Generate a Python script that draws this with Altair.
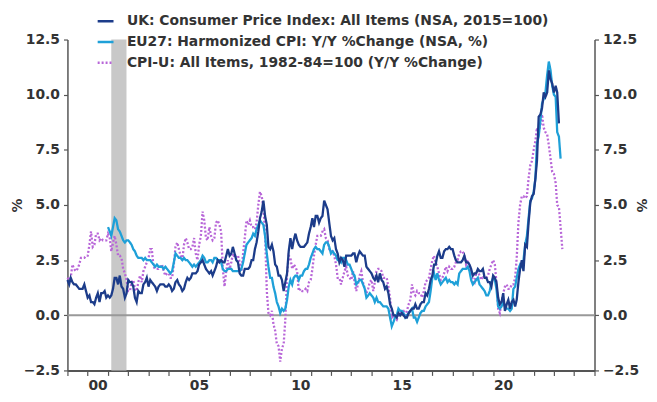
import altair as alt
import pandas as pd

# ---------------- data ----------------
series_names = [
    "UK: Consumer Price Index: All Items (NSA, 2015=100)",
    "EU27: Harmonized CPI: Y/Y %Change (NSA, %)",
    "CPI-U: All Items, 1982-84=100 (Y/Y %Change)",
]
series_colors = ["#1c3c8a", "#1ea0d8", "#b866d8"]
series_dash = [[1, 0], [1, 0], [2, 2]]
series_starts = ["1999-01-01", "2001-01-01", "1999-01-01"]

uk_cpi = [
    1.6, 1.4, 1.7, 1.5, 1.4, 1.4, 1.3, 1.2, 1.2, 1.2, 1.4, 1.1,
    0.8, 0.9, 0.6, 0.6, 0.5, 0.8, 1.0, 0.6, 1.0, 1.0, 1.1, 0.8,
    0.9, 0.8, 0.9, 1.2, 1.7, 1.7, 1.4, 1.8, 1.3, 1.2, 0.8, 1.0,
    1.6, 1.5, 1.5, 1.3, 0.8, 0.6, 1.1, 1.0, 1.0, 1.4, 1.5, 1.7,
    1.3, 1.6, 1.5, 1.4, 1.3, 1.1, 1.3, 1.4, 1.4, 1.4, 1.3, 1.3,
    1.4, 1.3, 1.1, 1.2, 1.5, 1.6, 1.4, 1.3, 1.1, 1.2, 1.5, 1.7,
    1.6, 1.7, 1.9, 1.9, 1.9, 2.0, 2.3, 2.4, 2.5, 2.3, 2.1, 2.0,
    1.9, 2.0, 1.8, 2.0, 2.2, 2.5, 2.4, 2.5, 2.4, 2.4, 2.7, 3.0,
    2.7, 2.8, 3.1, 2.8, 2.5, 2.4, 1.9, 1.8, 1.8, 2.1, 2.1, 2.1,
    2.2, 2.5, 2.5, 3.0, 3.3, 3.8, 4.4, 4.7, 5.2, 4.5, 4.1, 3.1,
    3.0, 3.2, 2.9, 2.3, 2.2, 1.8, 1.8, 1.6, 1.1, 1.5, 1.9, 2.9,
    3.5, 3.0, 3.4, 3.7, 3.4, 3.2, 3.1, 3.1, 3.1, 3.2, 3.3, 3.7,
    4.0, 4.4, 4.0, 4.5, 4.5, 4.2, 4.4, 4.5, 5.2, 5.0, 4.8, 4.2,
    3.6, 3.4, 3.5, 3.0, 2.8, 2.4, 2.6, 2.5, 2.2, 2.7, 2.7, 2.7,
    2.7, 2.8, 2.8, 2.4, 2.7, 2.9, 2.8, 2.7, 2.7, 2.2, 2.1, 2.0,
    1.9, 1.7, 1.6, 1.8, 1.5, 1.9, 1.6, 1.5, 1.2, 1.3, 1.0, 0.5,
    0.3, 0.0, 0.0, -0.1, 0.1, 0.0, 0.1, 0.0, -0.1, -0.1, 0.1, 0.2,
    0.3, 0.3, 0.5, 0.3, 0.3, 0.5, 0.6, 0.6, 1.0, 0.9, 1.2, 1.6,
    1.8, 2.3, 2.3, 2.7, 2.9, 2.6, 2.6, 2.9, 3.0, 3.0, 3.1, 3.0,
    3.0, 2.7, 2.5, 2.4, 2.4, 2.4, 2.5, 2.7, 2.4, 2.4, 2.3, 2.1,
    1.8, 1.9, 1.9, 2.1, 2.0, 2.0, 2.1, 1.7, 1.7, 1.5, 1.5, 1.3,
    1.8, 1.7, 1.5, 0.8, 0.5, 0.6, 1.0, 0.2, 0.5, 0.7, 0.3, 0.6,
    0.7, 0.4, 0.7, 1.5, 2.1, 2.5, 2.0, 3.2, 3.1, 4.2, 5.1, 5.4,
    5.5, 6.2, 7.0, 9.0, 9.1, 9.4, 10.1, 9.9, 10.1, 11.1, 10.7, 10.5,
    10.1, 10.4, 10.1, 8.7,
]

eu27_hicp = [
    4.0, 3.8, 3.6, 4.0, 4.4, 4.3, 3.9, 3.8, 3.6, 3.4, 3.3, 3.4,
    3.4, 3.3, 3.2, 3.0, 2.9, 2.7, 2.6, 2.6, 2.6, 2.5, 2.6, 2.5,
    2.5, 2.5, 2.4, 2.3, 2.2, 2.3, 2.2, 2.2, 2.2, 2.1, 2.2, 2.1,
    2.0, 1.9, 2.0, 2.4, 2.8, 2.7, 2.6, 2.6, 2.5, 2.6, 2.5, 2.5,
    2.4, 2.3, 2.2, 2.3, 2.2, 2.3, 2.4, 2.5, 2.7, 2.6, 2.4, 2.4,
    2.5, 2.5, 2.4, 2.6, 2.6, 2.5, 2.5, 2.4, 2.1, 2.0, 2.0, 2.1,
    2.1, 2.1, 2.0, 2.0, 2.0, 2.0, 2.0, 2.1, 2.4, 2.8, 3.2, 3.3,
    3.4, 3.5, 3.7, 3.6, 3.9, 4.1, 4.3, 4.2, 4.1, 3.6, 2.8, 2.2,
    1.7, 1.7, 1.3, 1.0, 0.6, 0.4, 0.1, 0.3, 0.2, 0.3, 0.7, 1.3,
    1.6, 1.4, 1.7, 1.8, 1.8, 1.6, 1.8, 1.8, 2.0, 2.1, 2.1, 2.3,
    2.6, 2.8, 3.0, 3.1, 3.0, 3.0, 2.9, 2.8, 3.2, 3.3, 3.3, 3.1,
    2.8, 2.9, 2.8, 2.7, 2.5, 2.5, 2.4, 2.6, 2.6, 2.5, 2.3, 2.3,
    2.1, 1.9, 1.8, 1.4, 1.5, 1.6, 1.6, 1.4, 1.2, 0.8, 0.9, 1.0,
    0.9, 0.8, 0.6, 0.8, 0.6, 0.6, 0.5, 0.4, 0.4, 0.4, 0.3, -0.1,
    -0.5, -0.3, -0.1, 0.0, 0.3, 0.2, 0.2, 0.1, -0.1, 0.0, 0.1, 0.2,
    0.3, -0.1, -0.1, -0.3, -0.1, 0.1, 0.2, 0.2, 0.4, 0.5, 0.6, 1.1,
    1.7, 1.9, 1.6, 1.9, 1.6, 1.4, 1.5, 1.6, 1.7, 1.5, 1.6, 1.5,
    1.5, 1.4, 1.5, 1.4, 1.9, 2.0, 2.1, 2.1, 2.1, 2.2, 2.0, 1.6,
    1.4, 1.5, 1.6, 1.7, 1.4, 1.3, 1.2, 1.1, 0.9, 0.9, 1.1, 1.5,
    1.7, 1.6, 1.2, 0.4, 0.3, 0.4, 0.6, 0.4, 0.3, 0.3, 0.2, 0.3,
    1.2, 1.3, 1.7, 2.1, 2.3, 2.2, 2.5, 3.2, 3.6, 4.4, 5.2, 5.3,
    5.6, 6.2, 7.8, 8.1, 8.8, 9.6, 9.8, 10.1, 10.9, 11.5, 11.1, 10.4,
    10.0, 9.9, 8.3, 8.1, 7.1,
]

us_cpi_u = [
    1.7, 1.6, 1.7, 2.3, 2.1, 2.0, 2.1, 2.3, 2.6, 2.6, 2.6, 2.7,
    2.7, 3.2, 3.8, 3.1, 3.2, 3.7, 3.7, 3.4, 3.5, 3.4, 3.4, 3.4,
    3.7, 3.5, 2.9, 3.3, 3.6, 3.2, 2.7, 2.7, 2.6, 2.1, 1.9, 1.6,
    1.1, 1.1, 1.5, 1.6, 1.2, 1.1, 1.5, 1.8, 1.5, 2.0, 2.2, 2.4,
    2.6, 3.0, 3.0, 2.2, 2.1, 2.1, 2.1, 2.2, 2.3, 2.0, 1.8, 1.9,
    1.9, 1.7, 1.7, 2.3, 3.1, 3.3, 3.0, 2.7, 2.5, 3.2, 3.5, 3.3,
    3.0, 3.0, 3.1, 3.5, 2.8, 2.5, 3.2, 3.6, 4.7, 4.3, 3.5, 3.4,
    4.0, 3.6, 3.4, 3.5, 4.2, 4.3, 4.1, 3.8, 2.1, 1.3, 2.0, 2.5,
    2.1, 2.4, 2.8, 2.6, 2.7, 2.7, 2.4, 2.0, 2.8, 3.5, 4.3, 4.1,
    4.3, 4.0, 4.0, 3.9, 4.2, 5.0, 5.6, 5.4, 4.9, 3.7, 1.1, 0.1,
    0.0, 0.2, -0.4, -0.7, -1.3, -1.4, -2.1, -1.5, -1.3, -0.2, 1.8, 2.7,
    2.6, 2.1, 2.3, 2.2, 2.0, 1.1, 1.2, 1.1, 1.1, 1.2, 1.1, 1.5,
    1.6, 2.1, 2.7, 3.2, 3.6, 3.6, 3.6, 3.8, 3.9, 3.5, 3.4, 3.0,
    2.9, 2.9, 2.7, 2.3, 1.7, 1.7, 1.4, 1.7, 2.0, 2.2, 1.8, 1.7,
    1.6, 2.0, 1.5, 1.1, 1.4, 1.8, 2.0, 1.5, 1.2, 1.0, 1.2, 1.5,
    1.6, 1.1, 1.5, 2.0, 2.1, 2.1, 2.0, 1.7, 1.7, 1.7, 1.3, 0.8,
    -0.1, 0.0, -0.1, -0.2, 0.0, 0.1, 0.2, 0.2, 0.0, 0.2, 0.5, 0.7,
    1.4, 1.0, 0.9, 1.1, 1.0, 1.0, 0.8, 1.1, 1.5, 1.6, 1.7, 2.1,
    2.5, 2.7, 2.4, 2.2, 1.9, 1.6, 1.7, 1.9, 2.2, 2.0, 2.2, 2.1,
    2.1, 2.2, 2.4, 2.5, 2.8, 2.9, 2.9, 2.7, 2.3, 2.5, 2.2, 1.9,
    1.6, 1.5, 1.9, 2.0, 1.8, 1.6, 1.8, 1.7, 1.7, 1.8, 2.1, 2.3,
    2.5, 2.3, 1.5, 0.3, 0.1, 0.6, 1.0, 1.3, 1.4, 1.2, 1.2, 1.4,
    1.4, 1.7, 2.6, 4.2, 5.0, 5.4, 5.4, 5.3, 5.4, 6.2, 6.8, 7.0,
    7.5, 7.9, 8.5, 8.3, 8.6, 9.1, 8.5, 8.3, 8.2, 7.7, 7.1, 6.5,
    6.4, 6.0, 5.0, 4.9, 4.0, 3.0,
]

recession_start = ["2001-03-01"]
recession_end = ["2001-11-30"]
y_ticks = [-2.5, 0.0, 2.5, 5.0, 7.5, 10.0, 12.5]
x_years = list(range(1999, 2026))

# ---------------- tables ----------------
frames = []
all_vals = [uk_cpi, eu27_hicp, us_cpi_u]
for name, start, vals in reversed(list(zip(series_names, series_starts, all_vals))):
    dates = pd.date_range(start, periods=len(vals), freq="MS")
    frames.append(pd.DataFrame({"date": dates, "value": vals, "series": name}))
lines_df = pd.concat(frames, ignore_index=True)

rec_df = pd.DataFrame({"start": pd.to_datetime(recession_start),
                       "end": pd.to_datetime(recession_end)})
zero_df = pd.DataFrame({"v": [0.0]})

FONT = "DejaVu Sans"
TXT = "#333333"

xscale = alt.Scale(domain=[alt.DateTime(year=1999, month=1, date=1),
                           alt.DateTime(year=2025, month=1, date=1)])


def yscale():
    return alt.Scale(domain=[-2.5, 12.5], nice=False, zero=False)


def x_axis():
    return alt.Axis(values=[alt.DateTime(year=y, month=1, date=1) for y in x_years],
                    labelExpr="(year(datum.value) % 5 == 0 && year(datum.value) < 2025) ? timeFormat(datum.value, '%y') : ''",
                    labelOffset=10, tickSize=5, labelPadding=3,
                    domainWidth=2, labelFlush=False, labelOverlap=False)


legend = alt.Legend(
    title=None, orient="none", legendX=29, legendY=-28,
    symbolType="stroke", symbolSize=256, symbolStrokeWidth=2.5,
    labelFont=FONT, labelFontSize=14, labelFontWeight="bold", labelColor=TXT,
    labelOffset=12, rowPadding=4, labelLimit=700, padding=0,
)

rect = alt.Chart(rec_df).mark_rect(color="#c8c8c8").encode(
    x=alt.X("start:T", scale=xscale, title=None, axis=x_axis()),
    x2="end:T",
    y=alt.YDatum(12.5, scale=yscale(), axis=None),
    y2=alt.datum(-2.5),
)

zero_rule = alt.Chart(zero_df).mark_rule(color="#999999", strokeWidth=2).encode(
    y=alt.Y("v:Q", scale=yscale(), title="%",
            axis=alt.Axis(orient="right", values=y_ticks, format=".1f",
                          tickSize=4, labelPadding=4,
                          titleX=46, titleY=167, titleAngle=90,
                          titleAlign="center", titleBaseline="middle")),
)

lines = alt.Chart(lines_df).mark_line(strokeWidth=2.3).encode(
    x=alt.X("date:T", scale=xscale, title=None, axis=x_axis()),
    y=alt.Y("value:Q", scale=yscale(), title="%",
            axis=alt.Axis(orient="left", values=y_ticks, format=".1f",
                          tickSize=4, labelPadding=4,
                          titleX=-50, titleY=167, titleAngle=270,
                          titleAlign="center", titleBaseline="middle")),
    color=alt.Color("series:N", scale=alt.Scale(domain=series_names, range=series_colors),
                    legend=legend),
    strokeDash=alt.StrokeDash("series:N", scale=alt.Scale(domain=series_names, range=series_dash),
                              legend=legend),
    order=alt.Order("date:T"),
)

chart = alt.layer(rect, zero_rule, lines).resolve_scale(y="independent").properties(
    width=532, height=334,
    autosize=alt.AutoSizeParams(type="none"),
    padding={"left": 60, "top": 30, "right": 55, "bottom": 26},
).configure_view(stroke=None).configure_axis(
    grid=False,
    labelFont=FONT, labelFontSize=14, labelFontWeight="bold", labelColor=TXT,
    titleFont=FONT, titleFontSize=14, titleFontWeight="bold", titleColor=TXT,
    domainColor="#555555", domainWidth=1.5, tickColor="#555555", tickWidth=1.2,
).configure_axisX(labelOverlap=False)

chart.save("out.html", embed_options={"renderer": "svg", "actions": False})
